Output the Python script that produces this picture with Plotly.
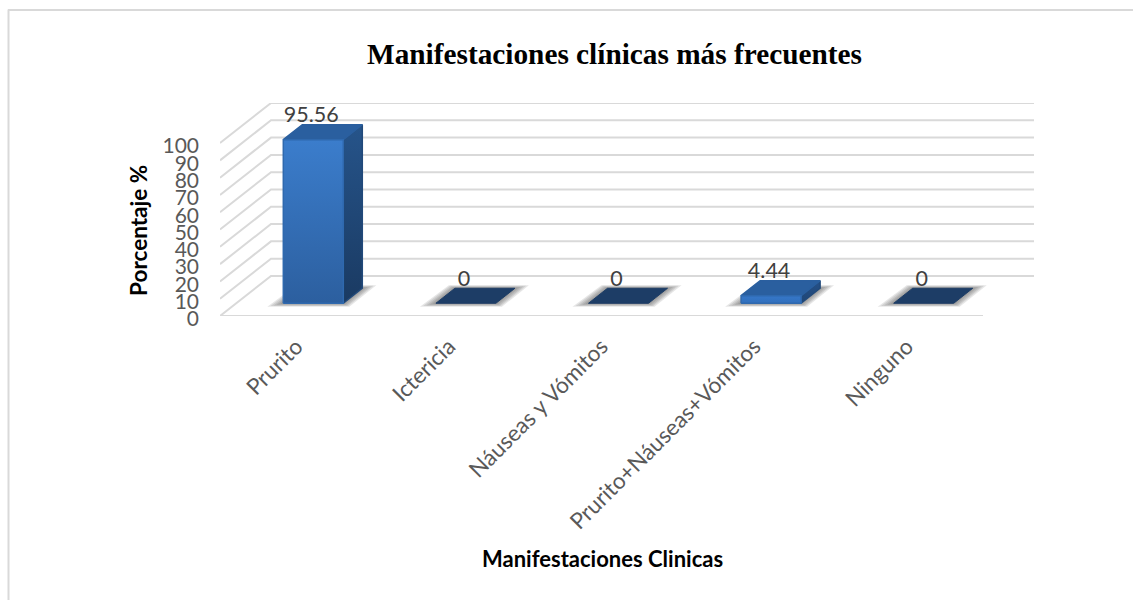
import plotly.graph_objects as go

categories = ["Prurito", "Ictericia", "Náuseas y Vómitos", "Prurito+Náuseas+Vómitos", "Ninguno"]
values = [95.56, 0, 0, 4.44, 0]
value_labels = ["95.56", "0", "0", "4.44", "0"]
y_ticks = [0, 10, 20, 30, 40, 50, 60, 70, 80, 90, 100]

W, H = 1133, 600
LEFT, RIGHT, TOP, BOTTOM = 220, 1034, 103.3, 316
PX_X = 152.6          # pixels per category
PX_Y = 1.727          # pixels per percent
DX_WALL = (RIGHT - LEFT) / PX_X - 5
DY_WALL = (BOTTOM - TOP) / PX_Y - 100
X0, X1 = -0.5, 4.5 + DX_WALL
Y1 = 100 + DY_WALL

def ux(p): return p / PX_X
def uy(p): return p / PX_Y

HALF = ux(30)
FX, FY = ux(17), uy(12.7)      # bar front offset from the floor front
BX, BY = ux(19), uy(15)        # bar depth
PERSPECTIVE = 0.99             # bars stand behind the front plane

GRID = "#d9d9d9"
traces = []

def poly(xs, ys, fill=None, grad=None, line=None, width=0):
    t = dict(x=xs + xs[:1], y=ys + ys[:1], mode="lines", fill="toself", hoverinfo="skip", showlegend=False)
    if grad:
        t["fillgradient"] = dict(type="vertical", colorscale=[[0, grad[0]], [1, grad[1]]])
        t["fillcolor"] = grad[1]
    else:
        t["fillcolor"] = fill
    t["line"] = dict(color=line or "rgba(0,0,0,0)", width=width)
    traces.append(go.Scatter(**t))

# walls
for v in y_ticks:
    traces.append(go.Scatter(x=[X0, X0 + DX_WALL, X1], y=[v, v + DY_WALL, v + DY_WALL], mode="lines",
                             line=dict(color=GRID, width=2), hoverinfo="skip", showlegend=False))
traces.append(go.Scatter(x=[X0, 4.5], y=[0, 0], mode="lines", line=dict(color=GRID, width=2),
                         hoverinfo="skip", showlegend=False))

# shadows
for i, v in enumerate(values):
    l, r, b = i + FX - HALF, i + FX + HALF, FY
    for s in [1.0, 0.8, 0.6, 0.4, 0.2]:
        poly([l - ux(16) * s, r + ux(6) * s, r + BX + ux(14) * s, l + BX - ux(6) * s],
             [b - uy(3.5) * s, b - uy(3.5) * s, b + BY + uy(3) * s, b + BY + uy(3) * s],
             fill="rgba(60,60,60,0.13)")

# bars
for i, v in enumerate(values):
    l, r, b = i + FX - HALF, i + FX + HALF, FY
    t = b + v * PERSPECTIVE
    if v == 0:
        poly([l, r, r + BX, l + BX], [b, b, b + BY, b + BY], fill="#1d3d66", line="#1d3d66", width=1)
        continue
    tall = v > 20
    poly([r, r + BX, r + BX, r], [b, b + BY, t + BY, t],
         grad=("#1a3a62", "#26548a") if tall else ("#1f4675", "#255088"), line="#21497a", width=1.5)
    poly([l, r, r + BX, l + BX], [t, t, t + BY, t + BY], fill="#2a5f9f", line="#2a5f9f", width=1.5)
    poly([l, r, r, l], [b, b, t, t],
         grad=("#2c5f9f", "#3b7dcc") if tall else ("#3170bd", "#3677c8"), line="#2f69ae", width=1.5)

# value labels
traces.append(go.Scatter(
    x=[i + FX - ux(2) for i in range(5)],
    y=[FY + BY + v * PERSPECTIVE + uy(8) for v in values],
    text=value_labels, mode="text", textposition="middle center",
    textfont=dict(family="Lato", size=21.5, color="#404040"),
    hoverinfo="skip", showlegend=False))

fig = go.Figure(traces)

paper_x = lambda p: (p - LEFT) / (RIGHT - LEFT)
paper_y = lambda p: (BOTTOM - p) / (BOTTOM - TOP)
fig.update_layout(
    width=W, height=H, autosize=False, showlegend=False,
    plot_bgcolor="white", paper_bgcolor="white",
    margin=dict(l=LEFT, r=W - RIGHT, t=TOP, b=H - BOTTOM, pad=0),
    title=dict(text="<b>Manifestaciones clínicas más frecuentes</b>", x=614.5 / W, xanchor="center",
               y=1 - 54 / H, yanchor="middle", font=dict(family="Liberation Serif", size=29.3, color="#000000")),
    xaxis=dict(range=[X0, X1], tickmode="array", tickvals=list(range(5)), ticktext=categories,
               tickangle=-45, showgrid=False, zeroline=False, showline=False, ticks="",
               ticklabelstandoff=12,
               tickfont=dict(family="Lato", size=22.5, color="#595959")),
    yaxis=dict(range=[0, Y1], tickmode="array", tickvals=y_ticks, showgrid=False, zeroline=False,
               showline=False, ticks="", ticklabelstandoff=20, ticklabelshift=3,
               tickfont=dict(family="Lato", size=21, color="#595959")),
    annotations=[
        dict(text="<b>Manifestaciones Clinicas</b>", xref="paper", yref="paper", x=paper_x(602), y=paper_y(558),
             xanchor="center", yanchor="middle", showarrow=False,
             font=dict(family="Lato", size=22, color="#000000")),
        dict(text="<b>Porcentaje %</b>", xref="paper", yref="paper", x=paper_x(139), y=paper_y(231),
             xanchor="center", yanchor="middle", textangle=-90, showarrow=False,
             font=dict(family="Lato", size=22.5, color="#000000")),
    ],
    shapes=[
        dict(type="line", xref="paper", yref="paper", x0=paper_x(8.5), x1=paper_x(8.5), y0=paper_y(10), y1=paper_y(600),
             line=dict(color=GRID, width=2)),
        dict(type="line", xref="paper", yref="paper", x0=paper_x(8), x1=paper_x(1133), y0=paper_y(10.5), y1=paper_y(10.5),
             line=dict(color=GRID, width=2)),
    ],
)
fig.write_html("out.html", config=dict(displayModeBar=False),
               post_script="document.body.style.margin='0';document.body.style.overflow='hidden';window.dispatchEvent(new Event('resize'));")
